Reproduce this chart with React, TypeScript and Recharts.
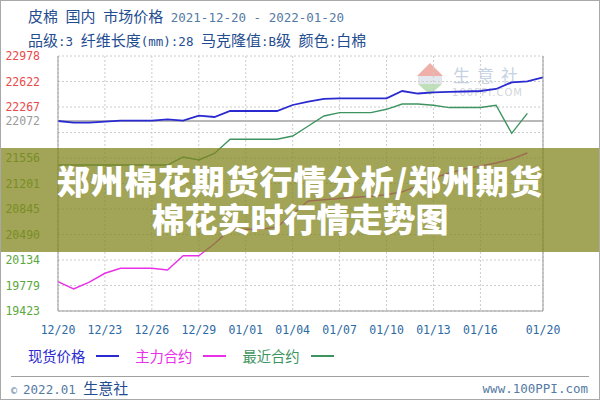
import { LineChart, Line, XAxis, YAxis, CartesianGrid, ReferenceLine } from 'recharts';

// calendar days counted from 2021-12-20
const days = [0, 1, 2, 3, 4, 5, 6, 7, 8, 9, 10, 11, 12, 13, 14, 15, 16, 17, 18, 19, 20, 21, 22, 23, 24, 25, 26, 27, 28, 29, 30, 31];

// 现货价格
const spotPrice = [22072, 22048, 22048, 22063, 22076, 22076, 22076, 22095, 22076, 22146, 22128, 22211, 22211, 22211, 22211, 22295, 22342, 22381, 22388, 22388, 22388, 22388, 22490, 22455, 22472, 22477, 22483, 22490, 22518, 22611, 22625, 22681];
// 主力合约
const mainContract = [19832, 19730, 19827, 19949, 20018, 20018, 20018, 19995, 20194, 20194, 20361, 20559, 20562, 20562, 20594, 20775, 20957, 20973, 20991, 21008, 21022, 21044, 21085, 21166, 21277, 21347, 21403, 21444, 21486, 21542, 21626, null];
// 最近合约
const nearContract = [21458, 21458, 21458, 21458, 21458, 21458, 21458, 21458, 21570, 21528, 21619, 21817, 21817, 21817, 21817, 21863, 22002, 22142, 22188, 22188, 22188, 22235, 22309, 22309, 22292, 22259, 22260, 22261, 22291, 21900, 22179, null];

const xTicks = [0, 3, 6, 9, 12, 15, 18, 21, 24, 27, 31];
const xTickLabels = ['12/20', '12/23', '12/26', '12/29', '01/01', '01/04', '01/07', '01/10', '01/13', '01/16', '01/20'];

const basePrice = 22072;
const priceTicks = [19423, 19778.5, 20134, 20489.5, 20845, 21200.5, 21556, 21911.5, 22072, 22267, 22622.5, 22978];
const priceTickLabels = ['19423', '19779', '20134', '20490', '20845', '21201', '21556', '', '22072', '22267', '22622', '22978'];

const pctTicks = [-12, -10.39, -8.78, -7.17, -5.56, -3.95, -2.34, -0.73, 0, 0.88, 2.49, 4.1];
const pctTickLabels = ['-12.00%', '-10.39%', '-8.78%', '-7.17%', '-5.56%', '-3.95%', '-2.34%', '', '0.00%', '0.88%', '2.49%', '4.10%'];

const data = days.map((d, i) => ({
    day: d,
    spot: spotPrice[i],
    main: mainContract[i],
    near: nearContract[i],
}));

const RED = '#e84a4a';
const GRAY = '#9a9a9a';
const GREEN = '#5aa83e';
const MONO = '"DejaVu Sans Mono", monospace';
const CJK = '"Noto Sans CJK SC", sans-serif';

const levelColor = (v: number, zero: number) => (v > zero ? RED : v === zero ? GRAY : GREEN);

const PriceTick = (props: any) => {
    const { x, y, payload } = props;
    const i = priceTicks.indexOf(payload.value);
    return (
        <text x={x} y={y} dy={4} textAnchor="end" fontFamily={MONO} fontSize={11.5} fill={levelColor(payload.value, basePrice)}>
            {priceTickLabels[i]}
        </text>
    );
};

const PctTick = (props: any) => {
    const { x, y, payload } = props;
    const i = pctTicks.indexOf(payload.value);
    return (
        <text x={x} y={y} dy={4} textAnchor="start" fontFamily={MONO} fontSize={11.5} fill={levelColor(payload.value, 0)}>
            {pctTickLabels[i]}
        </text>
    );
};

const DayTick = (props: any) => {
    const { x, y, payload } = props;
    const i = xTicks.indexOf(payload.value);
    return (
        <text x={x} y={y} dy={23} textAnchor="middle" fontFamily={MONO} fontSize={11.5} fill="#2d6aa3">
            {xTickLabels[i]}
        </text>
    );
};

// chinese chars in CJK font, ascii in half width mono
const Mixed = ({ text, color, cjk = 15, ascii = 12.5 }: { text: string; color: string; cjk?: number; ascii?: number }) => (
    <>
        {Array.from(text).map((ch, i) =>
            ch.charCodeAt(0) < 128 ? (
                <span key={i} style={{ fontFamily: MONO, fontSize: ascii, color }}>{ch === ' ' ? '\u00a0' : ch}</span>
            ) : (
                <span key={i} style={{ fontFamily: CJK, fontSize: cjk, color }}>{ch}</span>
            )
        )}
    </>
);

const legendItems = [
    { name: '现货价格', color: '#2a2ad0' },
    { name: '主力合约', color: '#e830e8' },
    { name: '最近合约', color: '#3e9460' },
];

const Watermark = () => (
    <svg width={600} height={400} style={{ position: 'absolute', left: 0, top: 0 }}>
        <polygon points="430,63 417,76 443,76" fill="#eeb0a8" />
        <rect x={418} y={76} width={24} height={8} fill="#e2e8ee" />
        <polygon points="418,84 442,84 430,95" fill="#bfe0b8" />
        <text x={453} y={82} fontFamily={CJK} fontSize={17} letterSpacing={7} fill="#c5d2e2">生意社</text>
        <text x={452} y={96} fontFamily='"DejaVu Sans", sans-serif' fontSize={10} textLength={70} fill="#d2d6dc">100PPI.COM</text>
    </svg>
);

const App = () => {
    return (
        <div style={{ position: 'absolute', left: 0, top: 0, width: 600, height: 400, background: '#fff', overflow: 'hidden' }}>
            <Watermark />

            <div style={{ position: 'absolute', left: 0, top: 0 }}>
                <LineChart width={600} height={400} data={data} margin={{ top: 56, right: 0, bottom: 59, left: 0 }}>
                    <CartesianGrid yAxisId="price" stroke="#cccccc" strokeDasharray="2 2" />
                    <XAxis
                        dataKey="day"
                        type="number"
                        domain={[0, 31]}
                        ticks={xTicks}
                        interval={0}
                        height={30}
                        tickSize={0}
                        tickMargin={0}
                        tick={<DayTick />}
                        axisLine={{ stroke: '#999' }}
                    />
                    <YAxis
                        yAxisId="price"
                        orientation="left"
                        width={58}
                        domain={[19423, 22978]}
                        ticks={priceTicks}
                        interval={0}
                        tickSize={0}
                        tickMargin={18}
                        tick={<PriceTick />}
                        axisLine={{ stroke: '#999' }}
                    />
                    <YAxis
                        yAxisId="pct"
                        orientation="right"
                        width={57}
                        domain={[-12, 4.1]}
                        ticks={pctTicks}
                        interval={0}
                        tickSize={0}
                        tickMargin={5}
                        tick={<PctTick />}
                        axisLine={{ stroke: '#999' }}
                    />
                    <ReferenceLine yAxisId="price" y={basePrice} stroke="#b8b8b8" strokeWidth={2} />
                    <Line yAxisId="price" type="linear" dataKey="near" stroke="#3e9460" strokeWidth={1.4} dot={false} isAnimationActive={false} />
                    <Line yAxisId="price" type="linear" dataKey="main" stroke="#e830e8" strokeWidth={1.4} dot={false} isAnimationActive={false} />
                    <Line yAxisId="price" type="linear" dataKey="spot" stroke="#2a2ad0" strokeWidth={1.8} dot={false} isAnimationActive={false} />
                </LineChart>
            </div>

            {/* header */}
            <div style={{ position: 'absolute', left: 28, top: 6, lineHeight: '20px', whiteSpace: 'nowrap' }}>
                <Mixed text="皮棉 国内 市场价格 " color="#1f4d8f" />
                <Mixed text="2021-12-20 - 2022-01-20" color="#557aa3" />
            </div>
            <div style={{ position: 'absolute', left: 28, top: 30, lineHeight: '20px', whiteSpace: 'nowrap' }}>
                <Mixed text="品级:3 纤维长度(mm):28 马克隆值:B级 颜色:白棉" color="#1f4d8f" />
            </div>

            {/* legend */}
            <div style={{ position: 'absolute', left: 28, top: 345, lineHeight: '22px', whiteSpace: 'nowrap', display: 'flex', alignItems: 'center' }}>
                {legendItems.map((item) => (
                    <div key={item.name} style={{ display: 'flex', alignItems: 'center', marginRight: 16 }}>
                        <span style={{ fontFamily: CJK, fontSize: 14.3, color: item.color }}>{item.name}</span>
                        <span style={{ display: 'inline-block', width: 23, height: 2, marginLeft: 11, background: item.color }} />
                    </div>
                ))}
            </div>

            {/* footer */}
            <div style={{ position: 'absolute', left: 11, top: 376, width: 578, height: 1, background: '#a0a0a0' }} />
            <div style={{ position: 'absolute', left: 11, top: 378, lineHeight: '20px', whiteSpace: 'nowrap' }}>
                <span style={{ fontFamily: MONO, fontSize: 10, color: '#557aa3' }}>©&nbsp;</span>
                <Mixed text="2022.01 " color="#557aa3" />
                <Mixed text="生意社" color="#1f4d8f" />
            </div>
            <div style={{ position: 'absolute', right: 12, top: 378, lineHeight: '20px', whiteSpace: 'nowrap' }}>
                <Mixed text="www.100PPI.com" color="#557aa3" />
            </div>

            {/* banner */}
            <div style={{ position: 'absolute', left: 0, top: 148, width: 600, height: 104, background: 'rgba(130,132,28,0.74)' }} />
            <div style={{ position: 'absolute', left: 0, top: 163, width: 600, textAlign: 'center', fontFamily: CJK, fontWeight: 900, fontSize: 33, lineHeight: '34px', color: '#fff', letterSpacing: 0.8 }}>
                郑州棉花期货行情分析/郑州期货
            </div>
            <div style={{ position: 'absolute', left: 0, top: 201, width: 600, textAlign: 'center', fontFamily: CJK, fontWeight: 900, fontSize: 33, lineHeight: '34px', color: '#fff' }}>
                棉花实时行情走势图
            </div>

            <div style={{ position: 'absolute', left: 0, top: 0, width: 600, height: 400, boxSizing: 'border-box', border: '1px solid #a8a8a8' }} />
        </div>
    );
};

export default App;
